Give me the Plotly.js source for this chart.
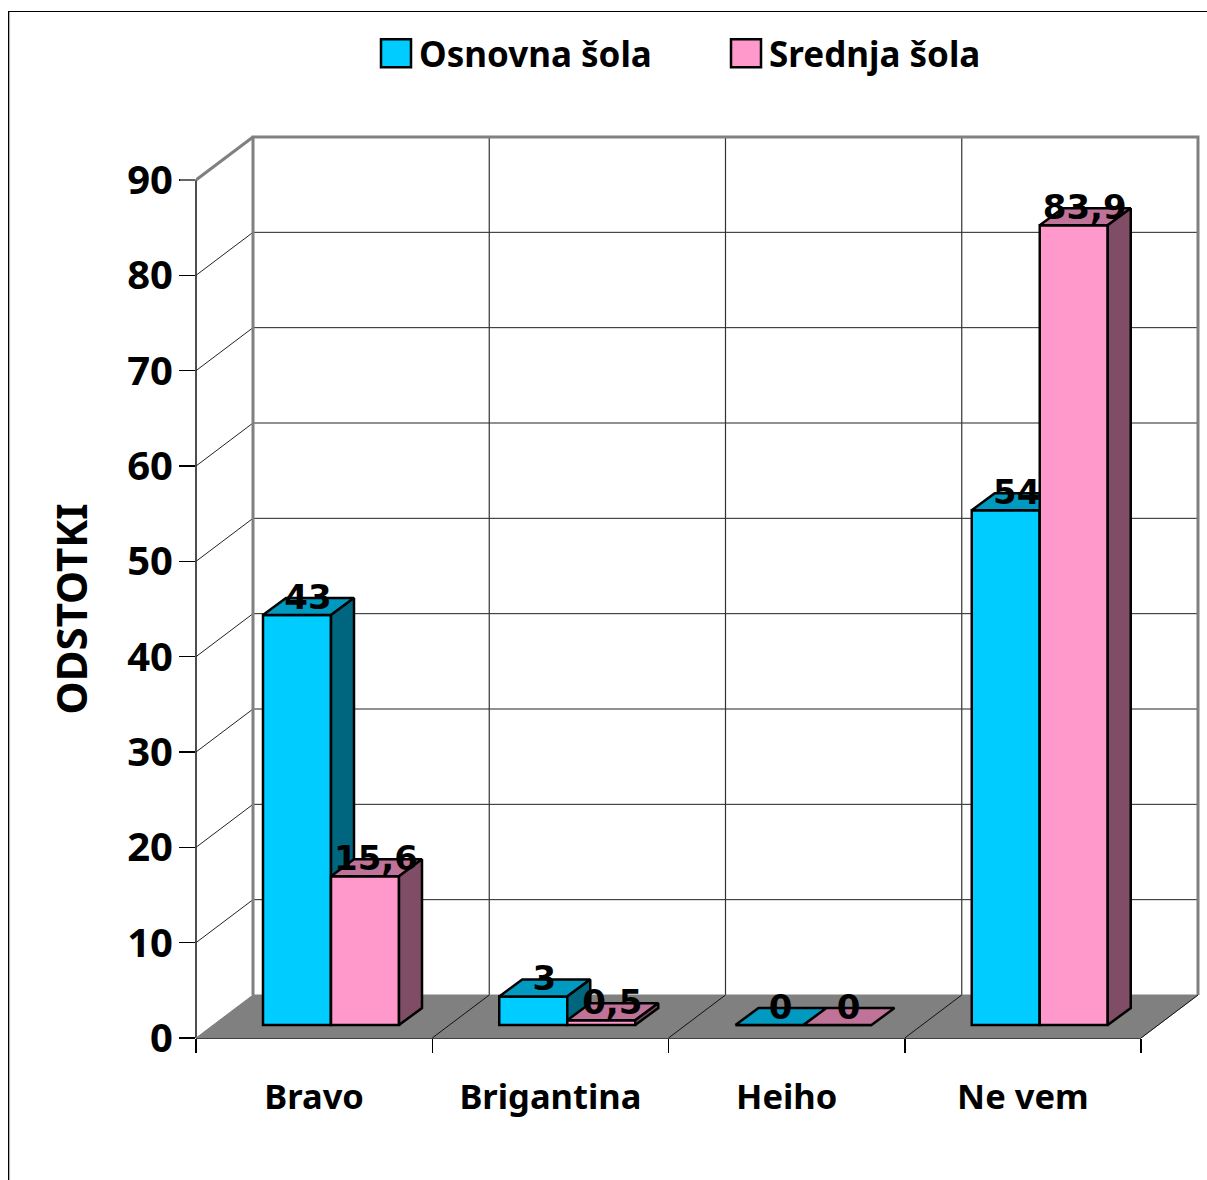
<!DOCTYPE html>
<html><head><meta charset="utf-8">
<script src="https://cdn.plot.ly/plotly-3.0.1.min.js"></script>
<style>html,body{margin:0;padding:0;background:#fff}#c{width:1207px;height:1180px}</style></head>
<body><div id="c"></div>
<script>
const categories = ['Bravo','Brigantina','Heiho','Ne vem'];
const seriesNames = ['Osnovna šola','Srednja šola'];
const osnovna = [43,3,0,54];
const srednja = [15.6,0.5,0,83.9];
const valueLabels = [['43','3','0','54'],['15,6','0,5','0','83,9']];
const yTicks = [0,10,20,30,40,50,60,70,80,90];
const FONT = '"Noto Sans", sans-serif';
const LABELFONT = '"DejaVu Sans", sans-serif';
const W=1207,H=1180,L=196,T=134,R=1201,B=1038;
const catPx=236.25, valPx=858/90;
const xr=[0,(R-L)/catPx], yr=[0,(B-T)/valPx];
const wallDx=57/catPx, wallDy=43/valPx;
const baseDy=13/valPx;
const depthDx=23/catPx, depthDy=17/valPx;
const barW=68/catPx, off0=67/catPx;
const series=[{v:osnovna,c:'#00CCFF',top:'#0099BF',side:'#006680',xa:'x',ya:'y',off:off0},
              {v:srednja,c:'#FF99CC',top:'#BF7399',side:'#804D66',xa:'x2',ya:'y2',off:off0+barW}];
const shapes=[];
function poly(pts,fill,lineC,lw,layer){
  shapes.push({type:'path',xref:'x',yref:'y',layer:layer||'below',
    path:'M'+pts.map(p=>p[0]+','+p[1]).join('L')+(fill?'Z':''),
    fillcolor:fill||'rgba(0,0,0,0)',line:{color:lineC,width:lw}});
}
const nCat=categories.length;
// gridlines on the walls
yTicks.forEach(t=>{ if(t>0 && t<90){
  poly([[0,t],[wallDx,t+wallDy],[nCat+wallDx,t+wallDy]],null,'#222',1);
}});
for(let i=1;i<nCat;i++){
  poly([[i+wallDx,wallDy],[i+wallDx,90+wallDy]],null,'#333',1.2);
}
// back walls
poly([[0,90],[wallDx,90+wallDy]],null,'#808080',3);
poly([[wallDx,wallDy],[wallDx,90+wallDy],[nCat+wallDx,90+wallDy],[nCat+wallDx,wallDy]],null,'#808080',3);
// floor
poly([[0,0],[wallDx,wallDy],[nCat+wallDx,wallDy],[nCat,0]],'#808080','#808080',1);
for(let i=1;i<=nCat;i++){
  poly([[i,0],[i+wallDx,wallDy]],null,'#111',1);
}
// front axes
shapes.push({type:'line',layer:'below',xref:'paper',yref:'y',x0:0,x1:0,y0:0,y1:90,line:{color:'#222',width:1.6}});
shapes.push({type:'line',layer:'below',xref:'x',yref:'paper',x0:0,x1:nCat,y0:0,y1:0,line:{color:'#000',width:1.6}});
// grey top tick
shapes.push({type:'line',layer:'above',xref:'paper',yref:'y',x0:-16/(R-L),x1:0,y0:90,y1:90,line:{color:'#808080',width:1.6}});
// outer frame
const px=v=>(v-L)/(R-L), py=v=>(B-v)/(B-T);
shapes.push({type:'line',xref:'paper',yref:'paper',x0:px(9.6),x1:px(9.6),y0:py(12),y1:py(H),line:{color:'#aaa',width:1}});
shapes.push({type:'line',xref:'paper',yref:'paper',x0:px(8.5),x1:px(8.5),y0:py(11),y1:py(H),line:{color:'#000',width:1}});
shapes.push({type:'line',xref:'paper',yref:'paper',x0:px(8),x1:px(W),y0:py(11.5),y1:py(11.5),line:{color:'#000',width:1}});

const traces=[];
series.forEach((s,si)=>{
  const xs=s.v.map((_,i)=>i+s.off+barW/2);
  traces.push({type:'bar',name:seriesNames[si],x:xs,y:s.v,base:s.v.map(()=>baseDy),width:barW,
    xaxis:s.xa,yaxis:s.ya,marker:{color:s.c,line:{color:'#000',width:2.5}},hoverinfo:'skip',cliponaxis:false});
  s.v.forEach((v,i)=>{
    const x0=i+s.off, x1=x0+barW, y0=baseDy, y1=baseDy+v;
    const face=(pts,col)=>traces.push({type:'scatter',mode:'lines',x:pts.map(p=>p[0]),y:pts.map(p=>p[1]),
      fill:'toself',fillcolor:col,line:{color:'#000',width:2.5},showlegend:false,hoverinfo:'skip',xaxis:s.xa,yaxis:s.ya,cliponaxis:false});
    face([[x0,y1],[x0+depthDx,y1+depthDy],[x1+depthDx,y1+depthDy],[x1,y1],[x0,y1]],s.top);
    if(v>0) face([[x1,y0],[x1+depthDx,y0+depthDy],[x1+depthDx,y1+depthDy],[x1,y1],[x1,y0]],s.side);
  });
});
const labelDx=11/catPx, labelDy=15/valPx;
series.forEach((s,si)=>{
  traces.push({type:'scatter',mode:'text',x:s.v.map((_,i)=>i+s.off+barW/2+labelDx),y:s.v.map(v=>v+baseDy+labelDy),
    text:valueLabels[si],textposition:'middle center',textfont:{family:LABELFONT,size:34,color:'#000',weight:700},
    showlegend:false,hoverinfo:'skip',xaxis:'x2',yaxis:'y2',cliponaxis:false});
});
const layout={width:W,height:H,margin:{l:L,r:W-R,t:T,b:H-B},paper_bgcolor:'#fff',plot_bgcolor:'rgba(0,0,0,0)',
  showlegend:true,
  legend:{orientation:'h',x:px(379),y:py(24),xanchor:'left',yanchor:'top',bgcolor:'rgba(0,0,0,0)',
    font:{family:FONT,size:35,color:'#000',weight:700},entrywidth:305,entrywidthmode:'pixels',traceorder:'normal'},
  barmode:'overlay',
  xaxis:{range:xr,showgrid:false,zeroline:false,showline:false,fixedrange:true,
    tickmode:'array',tickvals:categories.map((_,i)=>i+0.5),ticktext:categories,ticks:'',ticklabelstandoff:35,
    tickfont:{family:FONT,size:34.5,color:'#000',weight:700},
    minor:{tickmode:'array',tickvals:[0,1,2,3,4],ticks:'outside',ticklen:14,tickwidth:1.5,tickcolor:'#000',showgrid:false}},
  yaxis:{range:yr,showgrid:false,zeroline:false,showline:false,fixedrange:true,
    tickmode:'array',tickvals:yTicks,ticks:'outside',ticklen:16,tickwidth:1.5,tickcolor:'#000',ticklabelstandoff:-2,
    tickfont:{family:FONT,size:40,color:'#000',weight:700},
    title:{text:'ODSTOTKI',font:{family:FONT,size:42,color:'#000',weight:700},standoff:26}},
  xaxis2:{range:xr,overlaying:'x',visible:false,fixedrange:true},
  yaxis2:{range:yr,overlaying:'y',visible:false,fixedrange:true},
  shapes};
Plotly.newPlot('c',traces,layout,{displayModeBar:false,staticPlot:true}).then(gd=>{
  document.querySelectorAll('.legendpoints path').forEach(p=>{
    p.setAttribute('d','M12,14H-18V-14H12Z');
  });
  const yt=document.querySelector('.ytitle');
  if(yt) yt.setAttribute('transform','translate(0,23) '+(yt.getAttribute('transform')||''));
});
</script></body></html>
